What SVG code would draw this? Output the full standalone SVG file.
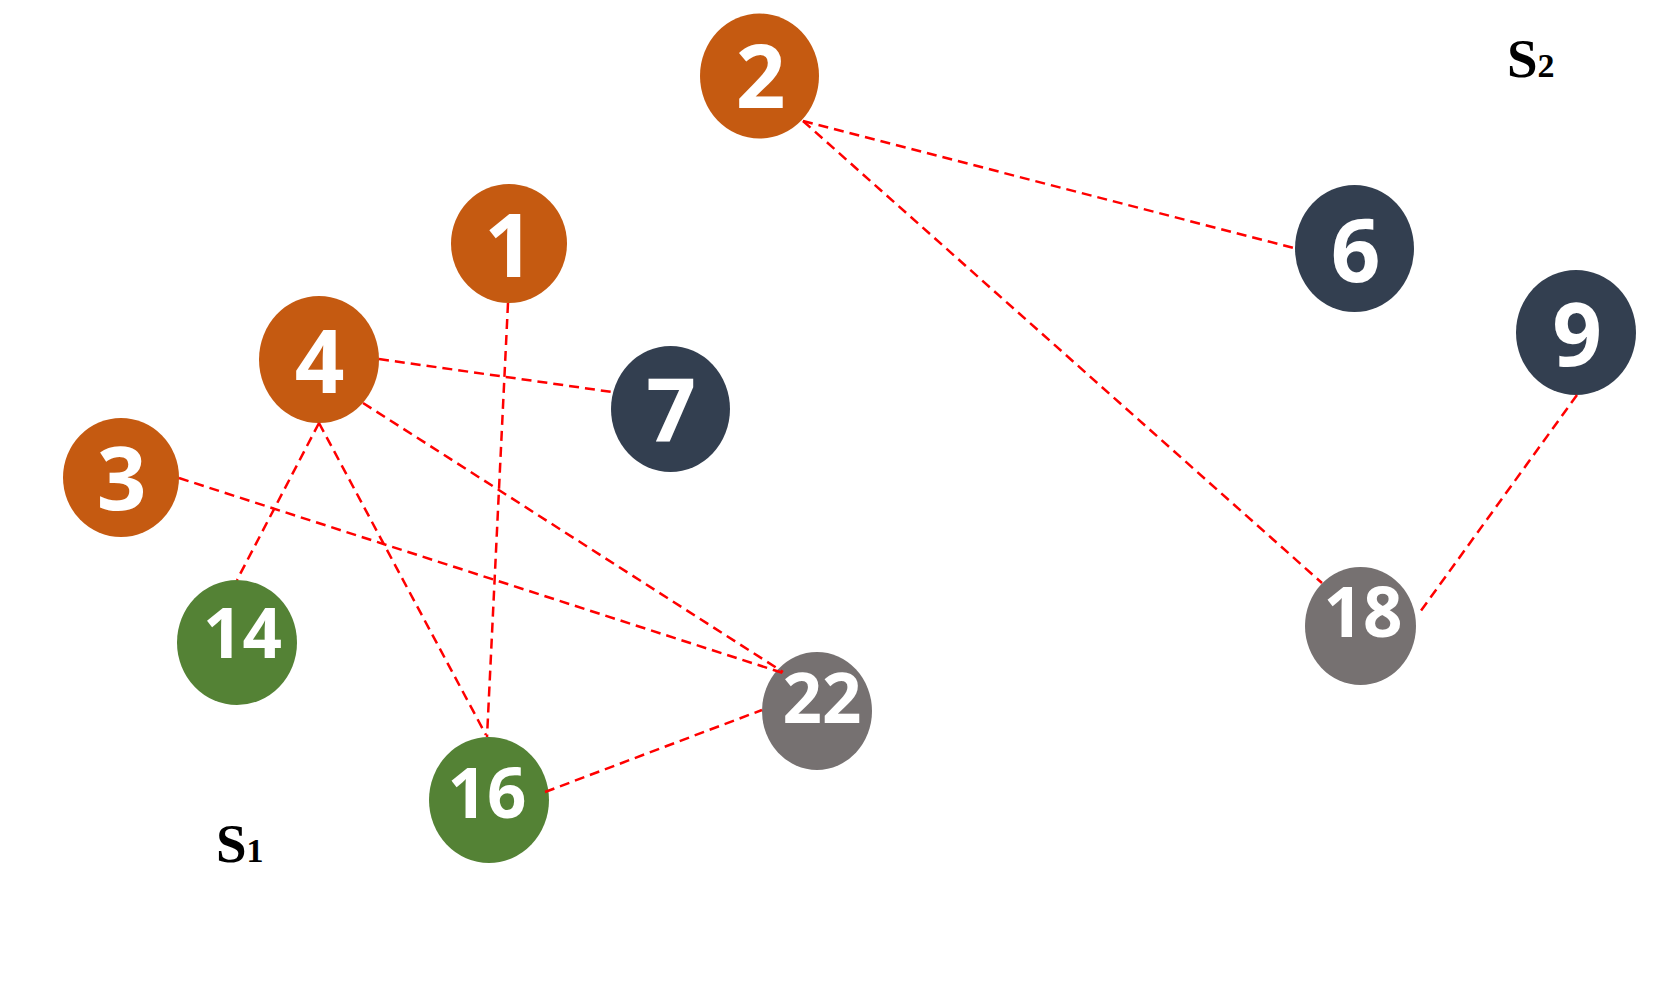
<svg xmlns="http://www.w3.org/2000/svg" width="1672" height="988" viewBox="0 0 1672 988">
<style>
.edge{stroke:#FF0000;stroke-width:2.5;stroke-dasharray:10,6;fill:none}
.or{fill:#C55A11}.nv{fill:#333F50}.gr{fill:#548235}.gy{fill:#767171}
.big{font-family:"Open Sans","Noto Sans",sans-serif;font-weight:bold;font-size:87px;fill:#FFFFFF;text-anchor:middle}
.sm{font-family:"Open Sans","Noto Sans",sans-serif;font-weight:bold;font-size:69px;fill:#FFFFFF;text-anchor:middle}
.lbl{font-family:"Liberation Serif","Times New Roman",serif;font-weight:bold;fill:#000000}
</style>
<rect width="1672" height="988" fill="#FFFFFF"/>
<g id="n2"><ellipse class="or" cx="759.5" cy="76" rx="59.5" ry="62.5"/><text class="big" x="760.5" y="108">2</text></g>
<g id="n1"><ellipse class="or" cx="509" cy="243.5" rx="58" ry="59.5"/><text class="big" x="509" y="277">1</text></g>
<g id="n4"><ellipse class="or" cx="319" cy="359.5" rx="60" ry="63.5"/><text class="big" x="319.5" y="393">4</text></g>
<g id="n7"><ellipse class="nv" cx="670.5" cy="409" rx="59.5" ry="63"/><text class="big" x="671" y="442">7</text></g>
<g id="n3"><ellipse class="or" cx="121" cy="477.5" rx="58" ry="59.5"/><text class="big" x="121.5" y="510">3</text></g>
<g id="n14"><ellipse class="gr" cx="237" cy="642.5" rx="60" ry="62.5"/><text class="sm" x="242.5" y="658">14</text></g>
<g id="n16"><ellipse class="gr" cx="489" cy="800" rx="60" ry="63"/><text class="sm" x="487" y="818">16</text></g>
<g id="n22"><ellipse class="gy" cx="817" cy="711" rx="55" ry="59"/><text class="sm" x="822" y="723">22</text></g>
<g id="n6"><ellipse class="nv" cx="1354.5" cy="248.5" rx="59.5" ry="63.5"/><text class="big" x="1355.5" y="282">6</text></g>
<g id="n9"><ellipse class="nv" cx="1576" cy="332.5" rx="60" ry="62.5"/><text class="big" x="1577" y="366">9</text></g>
<g id="n18"><ellipse class="gy" cx="1360.5" cy="626" rx="55.5" ry="59"/><text class="sm" x="1363" y="637">18</text></g>
<g id="edges">
<line class="edge" x1="803" y1="121" x2="1294" y2="248"/>
<line class="edge" x1="803" y1="121" x2="1322" y2="583"/>
<line class="edge" x1="1577" y1="395" x2="1420" y2="612"/>
<line class="edge" x1="508" y1="303" x2="487" y2="737"/>
<line class="edge" x1="379" y1="359" x2="612" y2="392"/>
<line class="edge" x1="363" y1="403" x2="783" y2="672"/>
<line class="edge" x1="179" y1="478" x2="783" y2="673"/>
<line class="edge" x1="319" y1="423" x2="237" y2="580"/>
<line class="edge" x1="319" y1="423" x2="486" y2="735"/>
<line class="edge" x1="545" y1="792" x2="762" y2="710"/>
</g>
<g id="labels">
<text class="lbl" x="216" y="862" font-size="55">S<tspan font-size="34">1</tspan></text>
<text class="lbl" x="1507" y="77" font-size="55">S<tspan font-size="34">2</tspan></text>
</g>
</svg>
